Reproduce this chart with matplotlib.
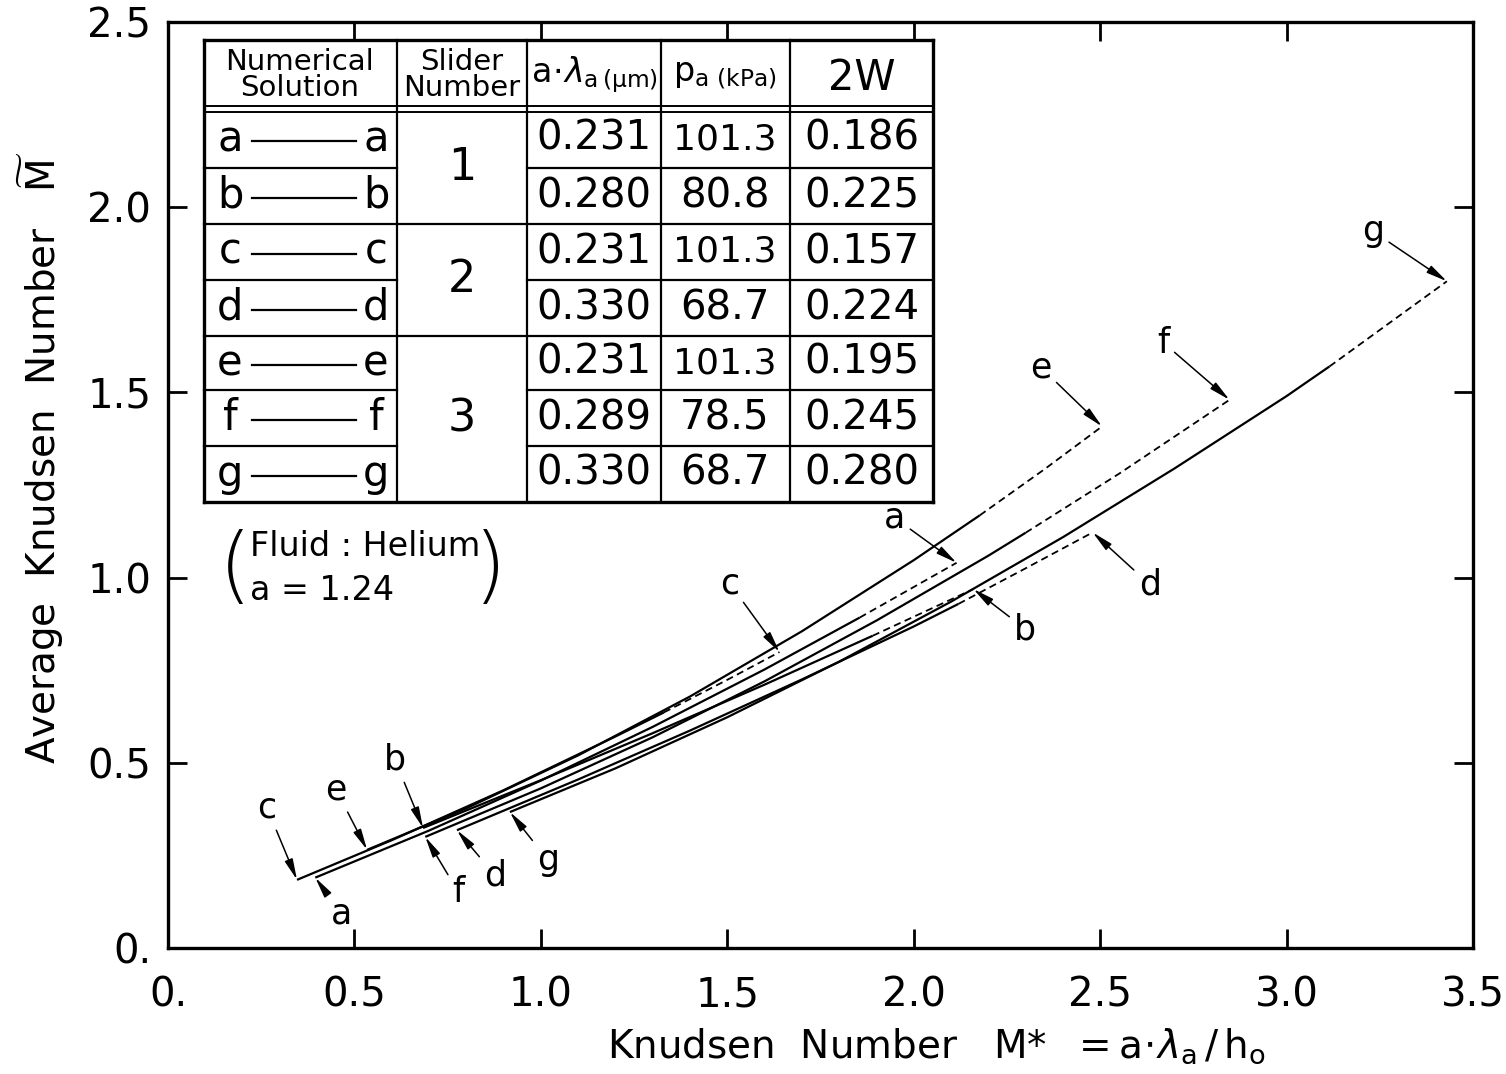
import matplotlib
matplotlib.use('Agg')
import matplotlib.pyplot as plt
from matplotlib.lines import Line2D

# Numerical solutions: points, plus the x where the line turns dashed
a_x = [0.395, 0.70, 1.00, 1.30, 1.60, 1.855, 2.115]
a_y = [0.190, 0.317, 0.452, 0.597, 0.752, 0.892, 1.040]
a_brk = 1.855

b_x = [0.684, 1.00, 1.30, 1.60, 1.89, 2.16]
b_y = [0.324, 0.453, 0.580, 0.711, 0.843, 0.969]
b_brk = 1.89

c_x = [0.346, 0.60, 0.90, 1.20, 1.33, 1.50, 1.64]
c_y = [0.184, 0.291, 0.426, 0.571, 0.636, 0.724, 0.799]
c_brk = 1.33

d_x = [0.775, 1.10, 1.40, 1.70, 2.00, 2.12, 2.30, 2.48]
d_y = [0.318, 0.455, 0.587, 0.725, 0.868, 0.929, 1.025, 1.122]
d_brk = 2.12

e_x = [0.534, 0.80, 1.10, 1.40, 1.70, 2.00, 2.177, 2.35, 2.505]
e_y = [0.265, 0.377, 0.520, 0.679, 0.855, 1.047, 1.168, 1.292, 1.408]
e_brk = 2.177

f_x = [0.690, 1.00, 1.30, 1.60, 1.90, 2.20, 2.30, 2.55, 2.847]
f_y = [0.300, 0.431, 0.569, 0.720, 0.884, 1.059, 1.121, 1.280, 1.480]
f_brk = 2.30

g_x = [0.917, 1.20, 1.50, 1.80, 2.10, 2.40, 2.70, 3.00, 3.115, 3.43]
g_y = [0.367, 0.485, 0.623, 0.773, 0.935, 1.109, 1.295, 1.490, 1.570, 1.800]
g_brk = 3.115

# table contents
sol_letters = ['a', 'b', 'c', 'd', 'e', 'f', 'g']
slider_no = ['1', '2', '3']
lam_vals = ['0.231', '0.280', '0.231', '0.330', '0.231', '0.289', '0.330']
pa_vals = ['101.3', '80.8', '101.3', '68.7', '101.3', '78.5', '68.7']
w2_vals = ['0.186', '0.225', '0.157', '0.224', '0.195', '0.245', '0.280']

xticks = [0, 0.5, 1.0, 1.5, 2.0, 2.5, 3.0, 3.5]
xtick_labels = ['0.', '0.5', '1.0', '1.5', '2.0', '2.5', '3.0', '3.5']
yticks = [0, 0.5, 1.0, 1.5, 2.0, 2.5]
ytick_labels = ['0.', '0.5', '1.0', '1.5', '2.0', '2.5']

W, H = 1506, 1074
fig = plt.figure(figsize=(W / 100, H / 100), dpi=100)
ax = fig.add_axes([168 / W, 1 - 948 / H, 1305 / W, 926 / H])

curves = {
    'a': (a_x, a_y, a_brk), 'b': (b_x, b_y, b_brk), 'c': (c_x, c_y, c_brk),
    'd': (d_x, d_y, d_brk), 'e': (e_x, e_y, e_brk), 'f': (f_x, f_y, f_brk),
    'g': (g_x, g_y, g_brk),
}

for name, (xs, ys, brk) in curves.items():
    xs_s = [x for x in xs if x <= brk]
    ys_s = [y for x, y in zip(xs, ys) if x <= brk]
    xs_d = [x for x in xs if x >= brk]
    ys_d = [y for x, y in zip(xs, ys) if x >= brk]
    ax.plot(xs_s, ys_s, color='k', lw=1.6, solid_capstyle='butt')
    ax.plot(xs_d, ys_d, color='k', lw=1.3, linestyle=(0, (4, 2.5)))

# label offsets (pixels) for start / end arrows
start_off = {'a': (26, -36), 'b': (-28, 68), 'c': (-30, 72), 'd': (38, -45),
             'e': (-31, 60), 'f': (33, -55), 'g': (38, -48)}
end_off = {'a': (-62, 45), 'b': (52, -40), 'c': (-50, 69), 'd': (57, -52),
           'e': (-61, 59), 'f': (-66, 57), 'g': (-74, 50)}

arrow = dict(arrowstyle='-|>,head_length=0.5,head_width=0.1', color='k', lw=1.1,
             shrinkA=2, shrinkB=0)
for name, (xs, ys, brk) in curves.items():
    ax.annotate(name, xy=(xs[0], ys[0]), xytext=start_off[name], textcoords='offset pixels',
                ha='center', va='center', fontsize=25, arrowprops=arrow)
    ax.annotate(name, xy=(xs[-1], ys[-1]), xytext=end_off[name], textcoords='offset pixels',
                ha='center', va='center', fontsize=25, arrowprops=arrow)

ax.set_xlim(0, 3.5)
ax.set_ylim(0, 2.5)
ax.set_xticks(xticks)
ax.set_xticklabels(xtick_labels)
ax.set_yticks(yticks)
ax.set_yticklabels(ytick_labels)
ax.tick_params(direction='in', length=14, width=2, top=True, right=True, labelsize=29)
ax.tick_params(axis='x', pad=20)
ax.tick_params(axis='y', pad=12)
for sp in ax.spines.values():
    sp.set_linewidth(2.4)

ax.set_xlabel(r'Knudsen  Number   M*  $=\mathrm{a}\!\cdot\!\lambda_{\mathrm{a}}\,/\,\mathrm{h_o}$',
              fontsize=28)
ax.xaxis.set_label_coords(0.589, -0.085)
ax.set_ylabel(r'Average  Knudsen  Number   $\widetilde{\mathrm{M}}$', fontsize=28)
ax.yaxis.set_label_coords(-0.078, 0.53)


# ---- table, drawn in figure pixels ----
def fx(px):
    return px / W


def fy(py):
    return 1 - py / H


def hline(y, x0, x1, lw=1.6):
    fig.add_artist(Line2D([fx(x0), fx(x1)], [fy(y), fy(y)], color='k', lw=lw))


def vline(x, y0, y1, lw=1.6):
    fig.add_artist(Line2D([fx(x), fx(x)], [fy(y0), fy(y1)], color='k', lw=lw))


cols = [204, 397, 527, 661, 790, 933]
rows = [110, 168, 224, 280, 336, 390, 446, 502]
top = 40

hline(top, cols[0], cols[-1], 2.4)
hline(106, cols[0], cols[-1], 1.4)
hline(112, cols[0], cols[-1], 1.4)
hline(rows[-1], cols[0], cols[-1], 2.4)
for y in rows[1:-1]:
    if y in (224, 336):
        hline(y, cols[0], cols[-1])
    else:
        hline(y, cols[0], cols[1])
        hline(y, cols[2], cols[-1])
for i, x in enumerate(cols):
    vline(x, top, rows[-1], 2.4 if i in (0, len(cols) - 1) else 1.6)

hdr_y = 75
fig.text(fx(300), fy(hdr_y), 'Numerical\nSolution', ha='center', va='center',
         fontsize=21, linespacing=0.95)
fig.text(fx(462), fy(hdr_y), 'Slider\nNumber', ha='center', va='center',
         fontsize=21, linespacing=0.95)
fig.text(fx(594), fy(hdr_y), r'$\mathrm{a}\!\cdot\!\lambda_{\mathrm{a\,(\mu m)}}$',
         ha='center', va='center', fontsize=24)
fig.text(fx(725), fy(hdr_y), r'$\mathrm{p}_{\mathrm{a\ (kPa)}}$', ha='center', va='center',
         fontsize=24)
fig.text(fx(862), fy(hdr_y + 3), '2W', ha='center', va='center', fontsize=30)

row_mid = [(rows[i] + rows[i + 1]) / 2 for i in range(len(rows) - 1)]
for i, let in enumerate(sol_letters):
    ym = row_mid[i]
    fig.text(fx(230), fy(ym), let, ha='center', va='center', fontsize=30)
    fig.text(fx(376), fy(ym), let, ha='center', va='center', fontsize=30)
    hline(ym + 2, 252, 356, 1.6)
    fig.text(fx(594), fy(ym), lam_vals[i], ha='center', va='center', fontsize=29)
    fig.text(fx(725), fy(ym), pa_vals[i], ha='center', va='center',
             fontsize=26 if pa_vals[i].startswith('1') else 29)
    fig.text(fx(862), fy(ym), w2_vals[i], ha='center', va='center', fontsize=29)

groups = [(0, 2), (2, 4), (4, 7)]
for s, (r0, r1) in zip(slider_no, groups):
    fig.text(fx(462), fy((rows[r0] + rows[r1]) / 2), s, ha='center', va='center', fontsize=32)

# fluid note
fig.text(fx(250), fy(547), 'Fluid : Helium', ha='left', va='center', fontsize=24)
fig.text(fx(250), fy(590), 'a = 1.24', ha='left', va='center', fontsize=24)
fig.text(fx(235), fy(570), '(', ha='center', va='center', fontsize=60, fontweight='light')
fig.text(fx(490), fy(570), ')', ha='center', va='center', fontsize=60, fontweight='light')

fig.savefig('out.png', dpi=100)
